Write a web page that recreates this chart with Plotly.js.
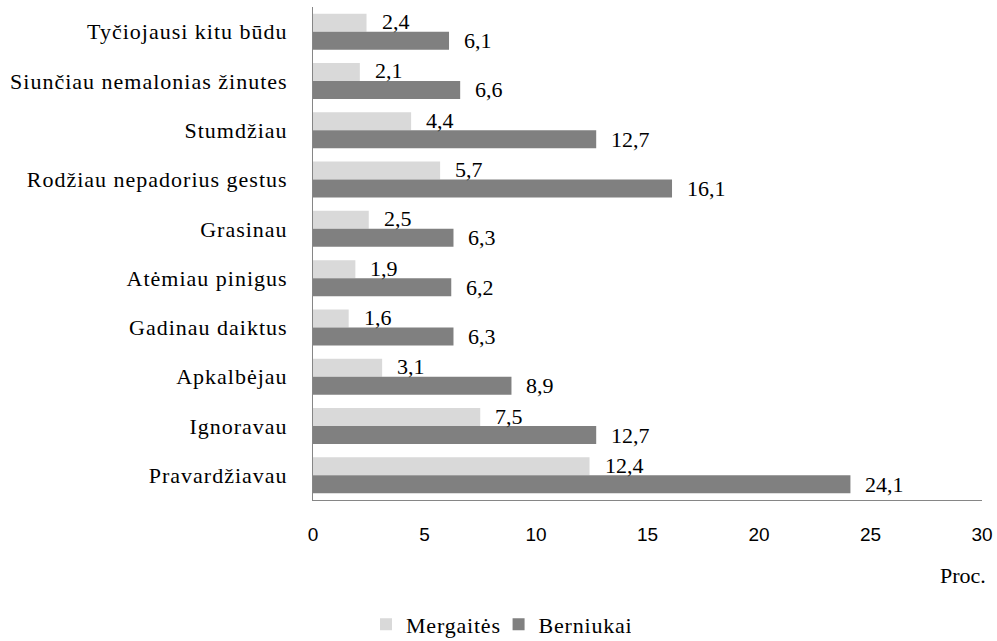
<!DOCTYPE html>
<html>
<head>
<meta charset="utf-8">
<script src="https://cdn.plot.ly/plotly-3.0.1.min.js"></script>
<style>
html,body{margin:0;padding:0;background:#fff;}
#chart{width:997px;height:641px;}
#chart .ytick text{letter-spacing:1px;}
#chart .legendtext{letter-spacing:0.8px;}
</style>
</head>
<body>
<div id="chart"></div>
<script>
const categories = [
  "Tyčiojausi kitu būdu",
  "Siunčiau nemalonias žinutes",
  "Stumdžiau",
  "Rodžiau nepadorius gestus",
  "Grasinau",
  "Atėmiau pinigus",
  "Gadinau daiktus",
  "Apkalbėjau",
  "Ignoravau",
  "Pravardžiavau"
];
const mergaites = [2.4, 2.1, 4.4, 5.7, 2.5, 1.9, 1.6, 3.1, 7.5, 12.4];
const berniukai = [6.1, 6.6, 12.7, 16.1, 6.3, 6.2, 6.3, 8.9, 12.7, 24.1];
const xTicks = [0, 5, 10, 15, 20, 25, 30];

const serif = "'Liberation Serif', 'Times New Roman', serif";
const sans = "'Liberation Sans', Arial, sans-serif";
const fmt = v => v.toFixed(1).replace('.', ',');

const traces = [
  {type: 'bar', orientation: 'h', name: 'Mergaitės', y: categories, x: mergaites,
   marker: {color: '#d9d9d9'}, hoverinfo: 'none'},
  {type: 'bar', orientation: 'h', name: 'Berniukai', y: categories, x: berniukai,
   marker: {color: '#808080'}, hoverinfo: 'none'}
];

const annotations = [];
categories.forEach((c, i) => {
  annotations.push({x: mergaites[i], y: c, xref: 'x', yref: 'y', text: fmt(mergaites[i]),
    showarrow: false, xanchor: 'left', yanchor: 'middle', xshift: 13, yshift: 10,
    font: {family: serif, size: 22, color: '#000'}});
  annotations.push({x: berniukai[i], y: c, xref: 'x', yref: 'y', text: fmt(berniukai[i]),
    showarrow: false, xanchor: 'left', yanchor: 'middle', xshift: 13, yshift: -9,
    font: {family: serif, size: 22, color: '#000'}});
});
annotations.push({x: 1, y: 0, xref: 'paper', yref: 'paper', text: 'Proc.', showarrow: false,
  xanchor: 'right', yanchor: 'middle', xshift: 6, yshift: -75,
  font: {family: serif, size: 22, color: '#000'}});

const layout = {
  width: 997, height: 641,
  margin: {l: 313, r: 15, t: 7, b: 141},
  paper_bgcolor: '#fff', plot_bgcolor: '#fff',
  barmode: 'group', bargap: 0.27, bargroupgap: 0,
  showlegend: true,
  legend: {orientation: 'h', xref: 'container', yref: 'container', x: 0.5, y: 0.026,
    xanchor: 'center', yanchor: 'middle', font: {family: serif, size: 22, color: '#000'},
    itemwidth: 30, tracegroupgap: 0},
  xaxis: {range: [0, 30], tickvals: xTicks, ticktext: xTicks.map(String),
    showgrid: false, zeroline: false, showline: true, linecolor: '#868686', linewidth: 1,
    ticks: '', ticklabelstandoff: 17, tickfont: {family: sans, size: 19, color: '#000'},
    fixedrange: true},
  yaxis: {type: 'category', autorange: 'reversed', showgrid: false, zeroline: false,
    showline: true, linecolor: '#868686', linewidth: 1, ticks: '', ticklabelstandoff: 20,
    tickfont: {family: serif, size: 22, color: '#000'}, fixedrange: true},
  annotations: annotations
};

Plotly.newPlot('chart', traces, layout, {displayModeBar: false, staticPlot: true});
</script>
</body>
</html>
